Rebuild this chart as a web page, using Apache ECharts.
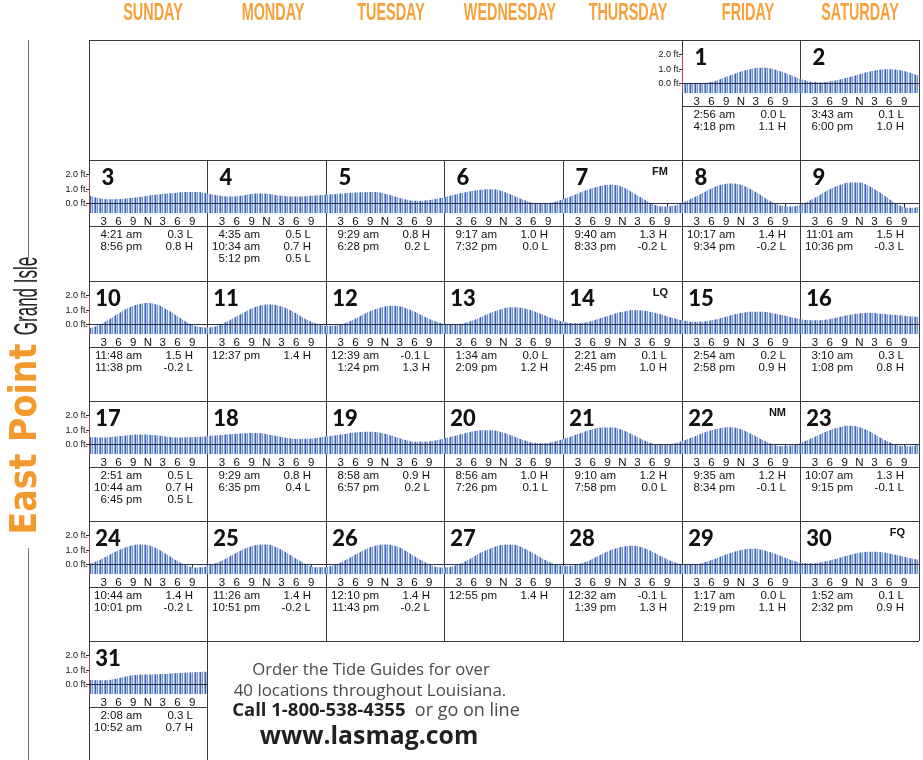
<!DOCTYPE html>
<html>
<head>
<meta charset="utf-8">
<script src="https://cdn.jsdelivr.net/npm/echarts@6/dist/echarts.min.js"></script>
<style>
  html, body { margin: 0; padding: 0; background: #fff; }
  #chart { width: 923px; height: 760px; }
</style>
</head>
<body>
<div id="chart"></div>
<script>
var weekDays = ["SUNDAY", "MONDAY", "TUESDAY", "WEDNESDAY", "THURSDAY", "FRIDAY", "SATURDAY"];
var firstWeekday = 5; // the 1st is a Friday
var hours = [0, 2, 4, 6, 8, 10, 12, 14, 16, 18, 20, 22, 24];
var hourLabels = {3: "3", 6: "6", 9: "9", 12: "N", 15: "3", 18: "6", 21: "9"};
var yLabelValues = [0, 1, 2];

// tide height (ft) every two hours
var tideHeights = [
  [0.05, 0.0, 0.02, 0.13, 0.35, 0.6, 0.85, 1.02, 1.1, 1.05, 0.86, 0.6, 0.34],
  [0.34, 0.15, 0.1, 0.15, 0.29, 0.47, 0.66, 0.84, 0.96, 1.0, 0.94, 0.77, 0.56],
  [0.56, 0.38, 0.3, 0.32, 0.38, 0.45, 0.55, 0.63, 0.7, 0.76, 0.8, 0.8, 0.7],
  [0.7, 0.58, 0.5, 0.52, 0.62, 0.7, 0.68, 0.59, 0.52, 0.5, 0.52, 0.56, 0.61],
  [0.61, 0.67, 0.72, 0.77, 0.79, 0.8, 0.69, 0.5, 0.31, 0.2, 0.22, 0.3, 0.44],
  [0.44, 0.62, 0.78, 0.9, 0.98, 1.0, 0.84, 0.56, 0.27, 0.05, 0.0, 0.1, 0.31],
  [0.31, 0.57, 0.85, 1.09, 1.26, 1.3, 1.15, 0.78, 0.37, 0.0, -0.19, -0.16, 0.03],
  [0.03, 0.36, 0.7, 1.05, 1.3, 1.4, 1.31, 1.0, 0.6, 0.17, -0.12, -0.2, -0.07],
  [-0.07, 0.23, 0.6, 0.99, 1.29, 1.47, 1.47, 1.21, 0.8, 0.33, -0.08, -0.29, -0.25],
  [-0.25, -0.02, 0.35, 0.77, 1.15, 1.41, 1.5, 1.36, 1.01, 0.58, 0.16, -0.12, -0.2],
  [-0.2, -0.08, 0.22, 0.58, 0.95, 1.25, 1.39, 1.35, 1.13, 0.77, 0.38, 0.08, -0.09],
  [-0.09, -0.06, 0.12, 0.43, 0.78, 1.06, 1.26, 1.3, 1.17, 0.89, 0.57, 0.26, 0.05],
  [0.05, 0.0, 0.1, 0.33, 0.62, 0.9, 1.12, 1.2, 1.14, 0.95, 0.68, 0.42, 0.2],
  [0.2, 0.1, 0.14, 0.28, 0.49, 0.71, 0.89, 0.99, 0.98, 0.86, 0.69, 0.48, 0.31],
  [0.31, 0.21, 0.21, 0.31, 0.46, 0.65, 0.8, 0.89, 0.89, 0.82, 0.68, 0.53, 0.4],
  [0.4, 0.31, 0.31, 0.39, 0.53, 0.68, 0.78, 0.8, 0.77, 0.71, 0.65, 0.58, 0.53],
  [0.53, 0.5, 0.52, 0.58, 0.65, 0.7, 0.69, 0.63, 0.55, 0.5, 0.51, 0.54, 0.59],
  [0.59, 0.65, 0.71, 0.76, 0.79, 0.8, 0.73, 0.6, 0.48, 0.4, 0.41, 0.47, 0.56],
  [0.56, 0.66, 0.76, 0.85, 0.9, 0.88, 0.75, 0.55, 0.35, 0.21, 0.21, 0.28, 0.43],
  [0.43, 0.6, 0.78, 0.92, 0.99, 0.98, 0.82, 0.58, 0.33, 0.14, 0.1, 0.19, 0.37],
  [0.37, 0.62, 0.86, 1.06, 1.18, 1.19, 1.01, 0.7, 0.36, 0.1, 0.0, 0.06, 0.24],
  [0.24, 0.49, 0.77, 1.0, 1.16, 1.2, 1.06, 0.75, 0.39, 0.08, -0.09, -0.06, 0.1],
  [0.1, 0.39, 0.71, 1.0, 1.21, 1.3, 1.2, 0.92, 0.53, 0.18, -0.06, -0.1, 0.04],
  [0.04, 0.3, 0.65, 0.99, 1.25, 1.39, 1.35, 1.08, 0.68, 0.25, -0.07, -0.2, -0.11],
  [-0.11, 0.13, 0.47, 0.84, 1.16, 1.36, 1.4, 1.21, 0.84, 0.41, 0.04, -0.18, -0.17],
  [-0.17, 0.01, 0.33, 0.7, 1.05, 1.3, 1.4, 1.3, 1.0, 0.58, 0.18, -0.12, -0.2],
  [-0.2, -0.09, 0.18, 0.55, 0.92, 1.21, 1.38, 1.37, 1.16, 0.79, 0.39, 0.08, -0.09],
  [-0.09, -0.06, 0.13, 0.42, 0.75, 1.05, 1.24, 1.3, 1.18, 0.9, 0.55, 0.23, 0.04],
  [0.04, 0.0, 0.11, 0.32, 0.58, 0.83, 1.01, 1.1, 1.05, 0.86, 0.62, 0.35, 0.16],
  [0.16, 0.1, 0.16, 0.29, 0.48, 0.67, 0.82, 0.89, 0.88, 0.78, 0.63, 0.47, 0.35],
  [0.35, 0.3, 0.33, 0.45, 0.6, 0.69, 0.7, 0.72, 0.75, 0.8, 0.84, 0.88, 0.9]
];

var tideTimes = [
  ["2:56 am", "4:18 pm"], ["3:43 am", "6:00 pm"], ["4:21 am", "8:56 pm"],
  ["4:35 am", "10:34 am", "5:12 pm"], ["9:29 am", "6:28 pm"], ["9:17 am", "7:32 pm"],
  ["9:40 am", "8:33 pm"], ["10:17 am", "9:34 pm"], ["11:01 am", "10:36 pm"],
  ["11:48 am", "11:38 pm"], ["12:37 pm"], ["12:39 am", "1:24 pm"],
  ["1:34 am", "2:09 pm"], ["2:21 am", "2:45 pm"], ["2:54 am", "2:58 pm"],
  ["3:10 am", "1:08 pm"], ["2:51 am", "10:44 am", "6:45 pm"], ["9:29 am", "6:35 pm"],
  ["8:58 am", "6:57 pm"], ["8:56 am", "7:26 pm"], ["9:10 am", "7:58 pm"],
  ["9:35 am", "8:34 pm"], ["10:07 am", "9:15 pm"], ["10:44 am", "10:01 pm"],
  ["11:26 am", "10:51 pm"], ["12:10 pm", "11:43 pm"], ["12:55 pm"],
  ["12:32 am", "1:39 pm"], ["1:17 am", "2:19 pm"], ["1:52 am", "2:32 pm"],
  ["2:08 am", "10:52 am"]
];
var tideLevels = [
  ["0.0 L", "1.1 H"], ["0.1 L", "1.0 H"], ["0.3 L", "0.8 H"],
  ["0.5 L", "0.7 H", "0.5 L"], ["0.8 H", "0.2 L"], ["1.0 H", "0.0 L"],
  ["1.3 H", "-0.2 L"], ["1.4 H", "-0.2 L"], ["1.5 H", "-0.3 L"],
  ["1.5 H", "-0.2 L"], ["1.4 H"], ["-0.1 L", "1.3 H"],
  ["0.0 L", "1.2 H"], ["0.1 L", "1.0 H"], ["0.2 L", "0.9 H"],
  ["0.3 L", "0.8 H"], ["0.5 L", "0.7 H", "0.5 L"], ["0.8 H", "0.4 L"],
  ["0.9 H", "0.2 L"], ["1.0 H", "0.1 L"], ["1.2 H", "0.0 L"],
  ["1.2 H", "-0.1 L"], ["1.3 H", "-0.1 L"], ["1.4 H", "-0.2 L"],
  ["1.4 H", "-0.2 L"], ["1.4 H", "-0.2 L"], ["1.4 H"],
  ["-0.1 L", "1.3 H"], ["0.0 L", "1.1 H"], ["0.1 L", "0.9 H"],
  ["0.3 L", "0.7 H"]
];
var moonPhases = {7: "FM", 14: "LQ", 22: "NM", 30: "FQ"};

// page layout
var colEdges = [89, 207, 326, 444, 563, 682, 800, 919];
var rowEdges = [40, 160, 281, 401, 521, 641, 760];
var headerX = [153, 273, 391, 510, 628, 748, 860];
var ORANGE = "#f7a13a";
var SANS = '"Liberation Sans", Arial, sans-serif';
var NARROW = '"Liberation Sans Narrow", "Liberation Sans", sans-serif';

var chartDom = document.getElementById("chart");
var chart = echarts.init(chartDom, null, {renderer: "canvas"});

// striped fill so the tide area reads as thin vertical bars
var stripe = document.createElement("canvas");
stripe.width = 5;
stripe.height = 4;
var sctx = stripe.getContext("2d");
[["#3f64b0", 0], ["#b9c9ea", 1], ["#7393cf", 2], ["#eef2fa", 3], ["#86a2d8", 4]].forEach(function (p) {
  sctx.fillStyle = p[0];
  sctx.fillRect(p[1], 0, 1, 4);
});

var grids = [], xAxes = [], yAxes = [], series = [], graphics = [];

function txt(x, y, s, opts) {
  var o = opts || {};
  graphics.push({
    type: "text", x: x, y: y, z: 10,
    rotation: o.rotation || 0, scaleX: o.scaleX || 1, scaleY: o.scaleY || 1,
    style: {
      text: s, x: 0, y: 0,
      fill: o.color || "#111",
      font: o.font || ("11.5px " + SANS),
      align: o.align || "left", textAlign: o.align || "left",
      verticalAlign: "middle", textVerticalAlign: "middle",
      rich: o.rich
    },
    silent: true
  });
}
function line(x1, y1, x2, y2, color, w) {
  graphics.push({
    type: "line", z: 3, silent: true,
    shape: {x1: x1, y1: y1, x2: x2, y2: y2},
    style: {stroke: color || "#3a3a3a", lineWidth: w || 1}
  });
}

// weekday headers
weekDays.forEach(function (d, i) {
  txt(headerX[i], 13, d, {align: "center", color: ORANGE, font: "bold 24px " + NARROW, scaleX: 0.6});
});

// side title
line(28.5, 40, 28.5, 258, "#777");
line(28.5, 548, 28.5, 760, "#777");
txt(26, 439, "East Point", {align: "center", rotation: Math.PI / 2, color: "#f39a2e", font: 'bold 37px "DejaVu Sans", sans-serif', scaleX: 0.9});
txt(28, 296, "Grand Isle", {align: "center", rotation: Math.PI / 2, color: "#222", font: "34px " + NARROW, scaleX: 0.5});

// calendar frame
line(colEdges[0], 40.5, colEdges[7], 40.5);
for (var r = 1; r <= 5; r++) line(colEdges[0], rowEdges[r] + 0.5, colEdges[7], rowEdges[r] + 0.5);
line(colEdges[0] + 0.5, 40, colEdges[0] + 0.5, 760);
line(colEdges[1] + 0.5, 160, colEdges[1] + 0.5, 760);
[2, 3, 4].forEach(function (c) { line(colEdges[c] + 0.5, 160, colEdges[c] + 0.5, 641); });
[5, 6, 7].forEach(function (c) { line(colEdges[c] + 0.5, 40, colEdges[c] + 0.5, 641); });

for (var d = 1; d <= tideHeights.length; d++) {
  var idx = d - 1 + firstWeekday;
  var row = Math.floor(idx / 7), col = idx % 7;
  var L = colEdges[col], R = colEdges[col + 1], T = rowEdges[row];
  var showY = col === 0 || d === 1;
  var gi = grids.length;

  grids.push({left: L, top: T + 14.7, width: R - L, height: 38.6});
  xAxes.push({
    gridIndex: gi, type: "value", min: 0, max: 24,
    splitLine: {show: false},
    axisLine: {show: false},
    axisTick: {show: true, length: 5, customValues: [3, 6, 9, 12, 15, 18, 21], lineStyle: {color: "#222"}},
    axisLabel: {customValues: [3, 6, 9, 12, 15, 18, 21], margin: 3, fontSize: 11.5, color: "#111", fontFamily: SANS,
      formatter: function (v) { return hourLabels[v] || ""; }}
  });
  yAxes.push({
    gridIndex: gi, type: "value", min: -0.66, max: 2.0, z: 4,
    splitLine: {show: false},
    axisLine: {show: showY, lineStyle: {color: "#9c4a4a", width: 1}},
    axisTick: {show: showY, length: 3, customValues: yLabelValues, lineStyle: {color: "#222"}},
    axisLabel: {show: showY, customValues: yLabelValues, margin: 1, fontSize: 9, color: "#111", fontFamily: SANS,
      formatter: function (v) { return v.toFixed(1) + " ft."; }}
  });
  series.push({
    type: "line", xAxisIndex: gi, yAxisIndex: gi,
    data: hours.map(function (h, k) { return [h, tideHeights[d - 1][k]]; }),
    smooth: 0.4, symbol: "none", silent: true,
    lineStyle: {width: 0},
    areaStyle: {origin: "start", opacity: 1, color: {image: stripe, repeat: "repeat"}},
    markLine: {silent: true, symbol: "none", label: {show: false}, animation: false,
      lineStyle: {color: "#2a3148", width: 1, type: "solid"}, data: [{yAxis: 0}]}
  });

  // panel furniture
  line(L, T + 66.5, R, T + 66.5);
  txt(L + 19, T + 18, String(d), {align: "center", font: "900 22px Lato, " + SANS, color: "#111"});
  if (moonPhases[d]) txt(R - 14, T + 12, moonPhases[d], {align: "right", font: "bold 11px " + SANS, color: "#111"});
  tideTimes[d - 1].forEach(function (t, k) {
    txt(L + 53, T + 75 + 12 * k, t, {align: "right"});
    txt(L + 104, T + 75 + 12 * k, tideLevels[d - 1][k], {align: "right"});
  });
}

// advert block
var adFont = '"Open Sans", "Noto Sans", sans-serif';
txt(371, 670, "Order the Tide Guides for over", {align: "center", color: "#4a4a4a", font: "16.7px " + adFont});
txt(370, 691, "40 locations throughout Louisiana.", {align: "center", color: "#4a4a4a", font: "16.9px " + adFont});
txt(376, 711, "{b|Call 1-800-538-4355}  or go on line", {align: "center", color: "#4a4a4a", font: "18px " + adFont,
  rich: {b: {fontWeight: "bold", fontSize: 18.5, fontFamily: '"Open Sans", sans-serif', fill: "#231f20", color: "#231f20"}}});
txt(369, 737, "www.lasmag.com", {align: "center", color: "#231f20", font: "bold 24.8px " + adFont});

chart.setOption({
  animation: false,
  grid: grids,
  xAxis: xAxes,
  yAxis: yAxes,
  series: series,
  graphic: {elements: graphics}
});

window.addEventListener("resize", function () { chart.resize(); });
</script>
</body>
</html>
